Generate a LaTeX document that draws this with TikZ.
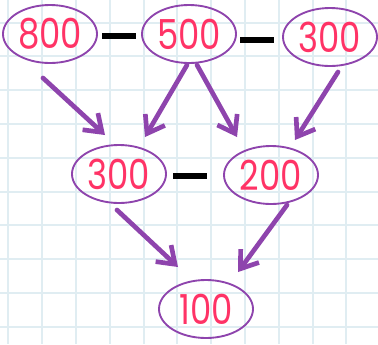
\documentclass[tikz,border=0pt]{standalone}
\usepackage{fontspec}
\setmainfont{Poppins}
\newfontfamily\numfont{Poppins}[FakeStretch=0.82]
\usepackage{tikz}
\usetikzlibrary{shapes.geometric, arrows.meta, positioning, calc}
\definecolor{mypurple}{RGB}{142,68,173}
\definecolor{mypink}{RGB}{255,51,102}
\definecolor{mygrid}{RGB}{224,237,242}
\tikzset{
  numnode/.style={ellipse, draw=mypurple, line width=1.4pt, text=mypink,
    minimum width=70.5pt, minimum height=43.5pt, inner sep=0pt,
    font=\numfont\fontsize{31}{31}\selectfont},
  minusbar/.style={rectangle, fill=black, minimum width=25.5pt,
    minimum height=5pt, inner sep=0pt},
  arrow/.style={-{Straight Barb[length=12pt, width=17pt]}, line width=3.5pt,
    color=mypurple, line cap=round, line join=round},
  gridline/.style={line width=1.5pt, color=mygrid}
}

\begin{document}
\begin{tikzpicture}[x=0.75pt, y=-0.75pt]

  % Paper
  \useasboundingbox (0,0) rectangle (378,344);
  \fill[white] (0,0) rectangle (378,344);
  \foreach \gx in {0,...,10}
    \draw[gridline] (8.3+33.8*\gx,0) -- (8.3+33.8*\gx,344);
  \foreach \gy in {0,...,9}
    \draw[gridline] (0,22.5+33.8*\gy) -- (378,22.5+33.8*\gy);

  % Row 1
  \node[numnode] (top800) at (50,34) {800};
  \node[numnode] (top500) at (189,34) {500};
  \node[numnode] (top300) at (330,37) {300};

  % Row 2
  \node[numnode] (mid300) at (119,174) {300};
  \node[numnode] (mid200) at (271,175) {200};

  % Row 3
  \node[numnode] (bot100) at (206,309) {100};

  % Minus signs
  \node[minusbar] (minA) at (119,36) {};
  \node[minusbar] (minB) at (257,40) {};
  \node[minusbar] (minC) at (190,176) {};

  % Arrows
  \draw[arrow] ([shift={(-7,44)}]top800.center) -- ([shift={(-14,-39)}]mid300.center);
  \draw[arrow] ([shift={(-2,31)}]top500.center) -- ([shift={(26,-37)}]mid300.center);
  \draw[arrow] ([shift={(8,31)}]top500.center) -- ([shift={(-34,-38)}]mid200.center);
  \draw[arrow] ([shift={(8,35)}]top300.center) -- ([shift={(24,-35)}]mid200.center);
  \draw[arrow] ([shift={(-2,36)}]mid300.center) -- ([shift={(-28,-42)}]bot100.center);
  \draw[arrow] ([shift={(16,30)}]mid200.center) -- ([shift={(32,-37)}]bot100.center);
\end{tikzpicture}
\end{document}
